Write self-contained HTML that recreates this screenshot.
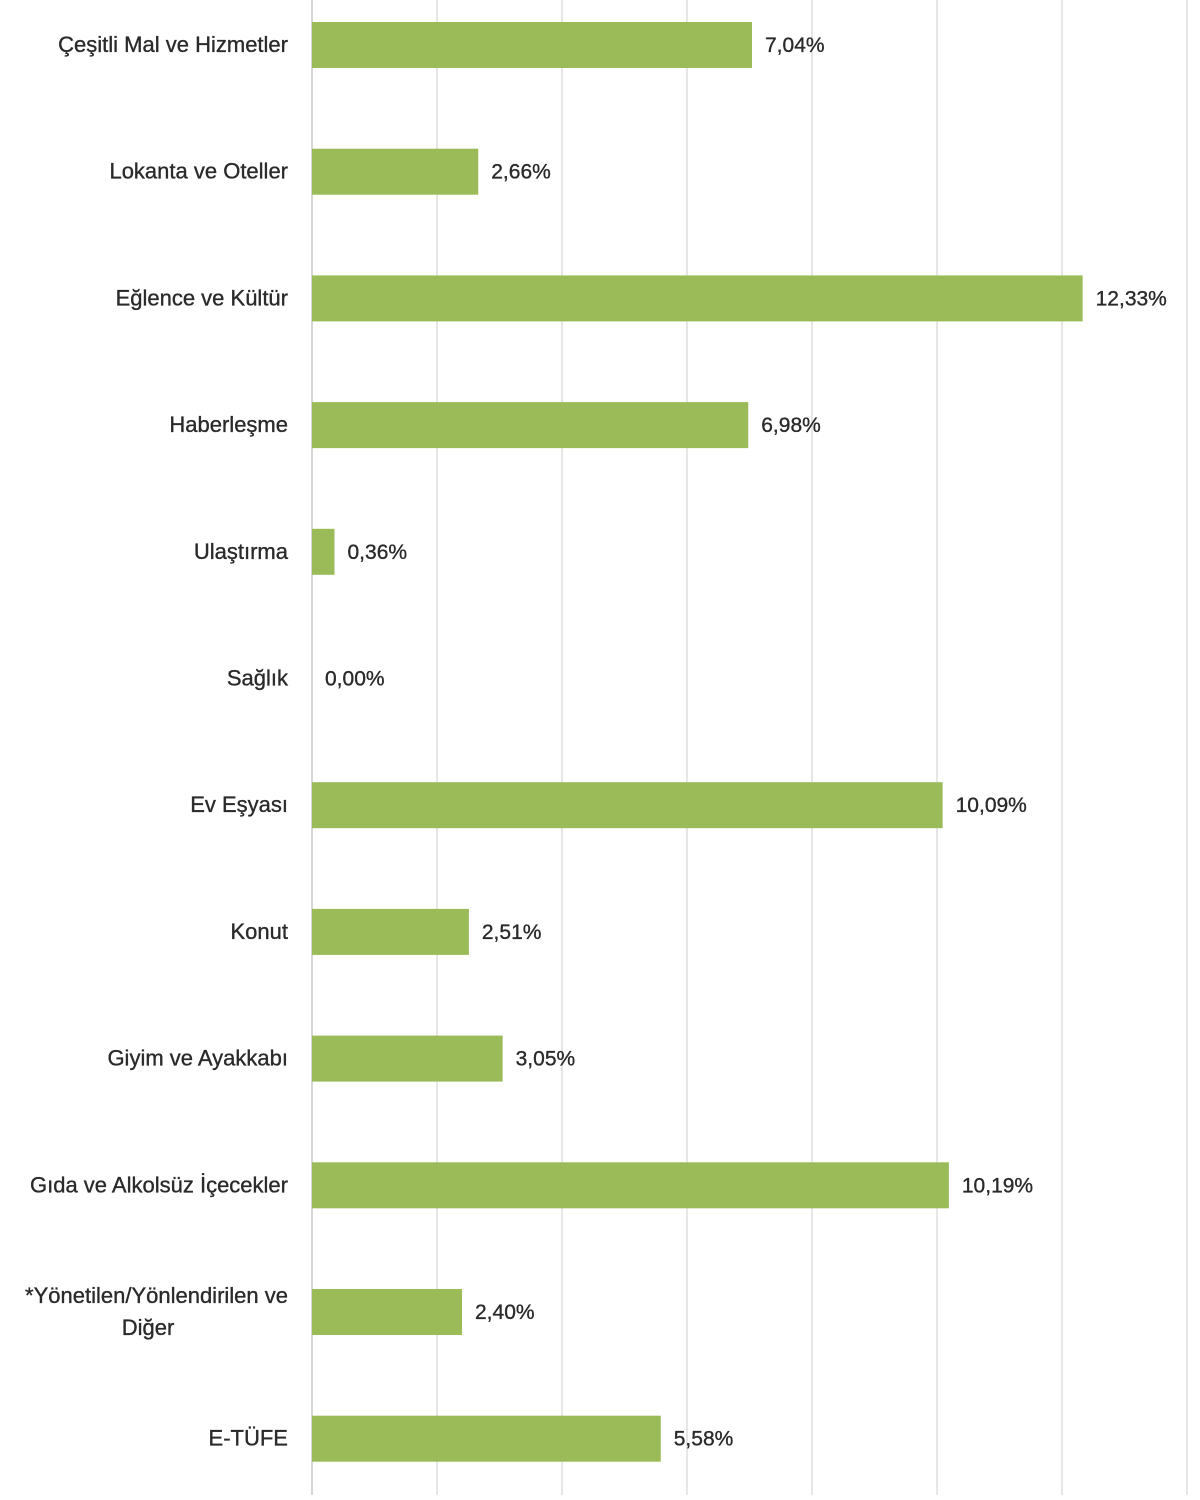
<!DOCTYPE html>
<html><head><meta charset="utf-8"><style>
body{margin:0;background:#fff;width:1200px;height:1495px;overflow:hidden;}
svg text{font-family:"Liberation Sans",sans-serif;font-size:21px;fill:#2a2a2a;stroke:#2a2a2a;stroke-width:0.35px;}
svg text.cat{font-size:22px;}
</style></head><body>
<svg id="chart" width="1200" height="1495"></svg>
<script>
const categories=["Çeşitli Mal ve Hizmetler","Lokanta ve Oteller","Eğlence ve Kültür","Haberleşme","Ulaştırma","Sağlık","Ev Eşyası","Konut","Giyim ve Ayakkabı","Gıda ve Alkolsüz İçecekler","*Yönetilen/Yönlendirilen ve|Diğer","E-TÜFE"];
const values=[7.04,2.66,12.33,6.98,0.36,0.00,10.09,2.51,3.05,10.19,2.40,5.58];
const valueLabels=["7,04%","2,66%","12,33%","6,98%","0,36%","0,00%","10,09%","2,51%","3,05%","10,19%","2,40%","5,58%"];
const gridTicks=[0,2,4,6,8,10,12,14];
const NS="http://www.w3.org/2000/svg";
const svg=document.getElementById('chart');
const x=v=>312+v*62.5;
const yc=i=>45+i*126.7;
function mk(tag,attrs){const e=document.createElementNS(NS,tag);for(const k in attrs)e.setAttribute(k,attrs[k]);svg.appendChild(e);return e;}
gridTicks.forEach(t=>{
  const l=mk('line',{x1:x(t),x2:x(t),y1:0,y2:1495,stroke:t===0?'#c8c8c8':'#dedede','stroke-width':1.5});
  
  
});
categories.forEach((c,i)=>{
  const y=yc(i);
  const parts=c.split('|');
  const t=mk('text',{x:288,y:parts.length>1?y-9:y+7,'text-anchor':'end','class':'cat'});
  
  
  if(parts.length>1){
    parts.forEach((p,j)=>{const s=document.createElementNS(NS,'tspan');s.setAttribute('x',j?148:288);s.setAttribute('dy',j?32:0);if(j)s.setAttribute('text-anchor','middle');s.textContent=p;t.appendChild(s);});
  } else t.textContent=c;
  if(values[i]>0){
    const r=mk('rect',{x:x(0),y:y-23,width:x(values[i])-x(0),height:46,fill:'#9bbb59'});
    
    
  }
  const v=mk('text',{x:x(values[i])+13,y:y+7});
  
  
  v.textContent=valueLabels[i];
});
</script>
</body></html>
